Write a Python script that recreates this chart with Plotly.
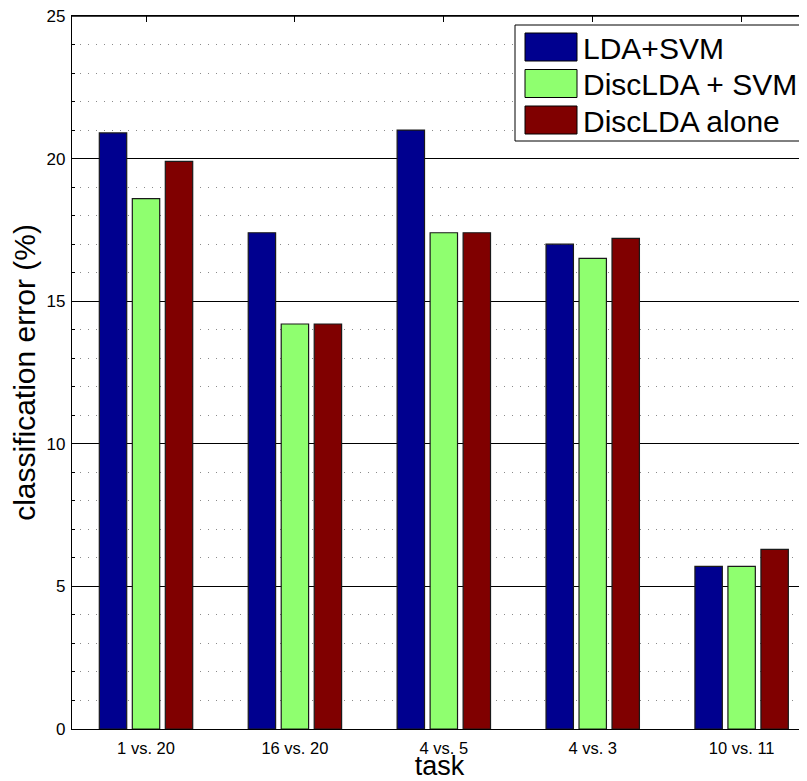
import plotly.graph_objects as go

tasks = ["1 vs. 20", "16 vs. 20", "4 vs. 5", "4 vs. 3", "10 vs. 11"]
series_names = ["LDA+SVM", "DiscLDA + SVM", "DiscLDA alone"]
lda_svm = [20.9, 17.4, 21.0, 17.0, 5.7]
disclda_svm = [18.6, 14.2, 17.4, 16.5, 5.7]
disclda_alone = [19.9, 14.2, 17.4, 17.2, 6.3]
colors = ["#00008F", "#8FFF6F", "#800000"]
y_ticks = [0, 5, 10, 15, 20, 25]

# the page body has an 8px margin, so the figure is sized/shifted to compensate
OFF = 8
W, H = 807 - OFF, 781 - OFF
L, T, R = 72 - OFF, 16 - OFF, 0
B = H - (729 - OFF)
pw, ph = W - L - R, H - T - B

def px(x):  # reference-pixel x -> paper
    return (x - OFF - L) / pw

def py(y):  # reference-pixel y -> paper
    return (H - B - (y - OFF)) / ph

fig = go.Figure()
bar_w = 0.184
step = 0.2216
for i, (name, vals) in enumerate(zip(series_names, [lda_svm, disclda_svm, disclda_alone])):
    fig.add_trace(go.Bar(
        x=tasks, y=vals, name=name,
        marker=dict(color=colors[i], line=dict(color="#1a1a1a", width=1.2)),
        width=bar_w, offset=-bar_w / 2 + (i - 1) * step,
        showlegend=False,
    ))

font = "Liberation Sans, Arial, Helvetica, sans-serif"

# top frame line (MATLAB box)
shapes = [dict(type="line", xref="paper", yref="paper", x0=0, x1=1, y0=1, y1=1,
               line=dict(color="black", width=1.3), layer="above")]
# custom MATLAB-like legend
shapes.append(dict(type="rect", xref="paper", yref="paper",
                   x0=px(515), x1=px(806), y0=py(141), y1=py(25),
                   line=dict(color="black", width=1), fillcolor="white", layer="above"))
annotations = []
row_c = [47, 83.5, 120]
for i, name in enumerate(series_names):
    c = row_c[i]
    shapes.append(dict(type="rect", xref="paper", yref="paper",
                       x0=px(525), x1=px(577), y0=py(c + 14), y1=py(c - 14),
                       line=dict(color="black", width=1), fillcolor=colors[i], layer="above"))
    annotations.append(dict(xref="paper", yref="paper", x=px(581), y=py(c + 1),
                            text=name, showarrow=False, xanchor="left", yanchor="middle",
                            font=dict(family=font, size=30, color="black")))

fig.update_layout(
    width=W, height=H,
    margin=dict(l=L, r=R, t=T, b=B, pad=0, autoexpand=False),
    paper_bgcolor="white", plot_bgcolor="white",
    barmode="overlay",
    font=dict(family=font, color="black"),
    shapes=shapes, annotations=annotations,
    xaxis=dict(
        range=[-0.497, 4.439], showline=True, linecolor="black", linewidth=1.3,
        mirror="ticks", ticks="inside", ticklen=6, tickcolor="black",
        tickfont=dict(size=16.5, family=font, color="black"), ticklabelstandoff=4,
        ticklabeloverflow="allow", layer="below traces",
        title=dict(text="task", font=dict(size=27, family=font, color="black"), standoff=5),
        showgrid=False, zeroline=False, automargin=False,
    ),
    yaxis=dict(
        range=[0, 25], tickvals=y_ticks, showline=True, linecolor="black", linewidth=1.3,
        ticks="inside", ticklen=6, tickcolor="black",
        tickfont=dict(size=17, family=font, color="black"), ticklabelstandoff=2,
        ticklabeloverflow="allow",
        title=dict(text="classification error (%)", font=dict(size=30, family=font, color="black"), standoff=18),
        showgrid=True, gridcolor="black", gridwidth=1,
        zeroline=False, automargin=False,
        minor=dict(dtick=1, ticks="inside", ticklen=3, tickcolor="black",
                   showgrid=True, gridcolor="#8a8a8a", gridwidth=1, griddash="1px,7px"),
    ),
)

fig.write_html("out.html")
